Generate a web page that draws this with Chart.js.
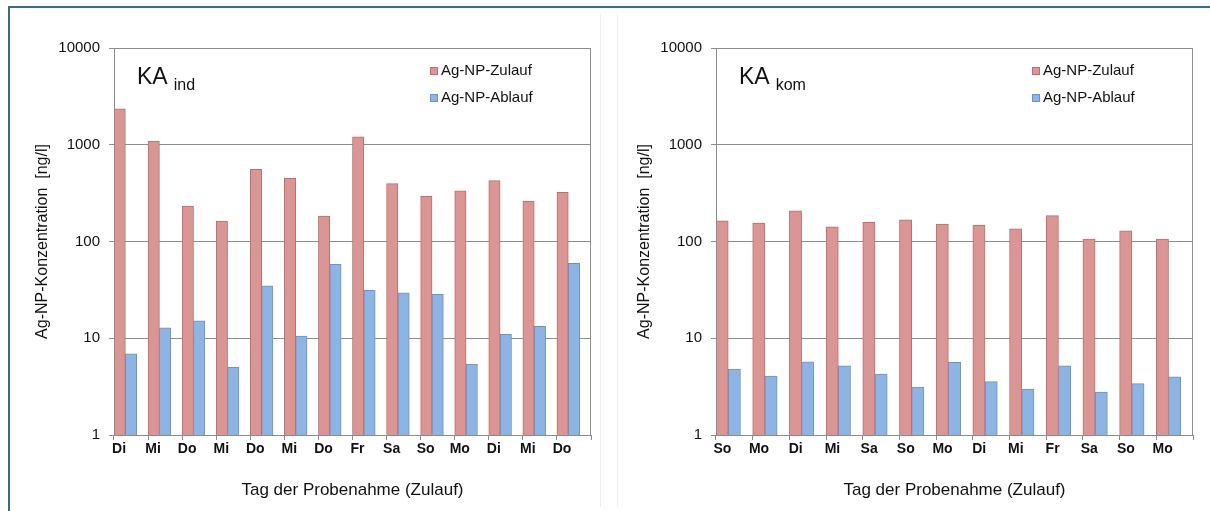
<!DOCTYPE html>
<html>
<head>
<meta charset="utf-8">
<script src="https://cdn.jsdelivr.net/npm/chart.js@4.4.1/dist/chart.umd.min.js"></script>
<style>
  body { margin: 0; background: #fff; width: 1210px; height: 511px; overflow: hidden; position: relative;
         font-family: "Liberation Sans", Arial, sans-serif; }
  #frame { position: absolute; left: 8px; top: 6px; width: 1202px; height: 505px; box-sizing: border-box;
           border-top: 2px solid #3d6985; border-left: 2px solid #3d6985; }
  .sep { position: absolute; top: 14px; bottom: 4px; width: 1px; background: #eeeeee; }
  .panel { position: absolute; top: 10px; width: 590px; height: 500px; }
  .ka { position: absolute; top: 63px; font-size: 23px; color: #111; }
  .ka span { font-size: 16px; position: relative; top: 6px; margin-left: 6px; }
</style>
</head>
<body>
<div id="frame"></div>
<div class="sep" style="left:600px"></div>
<div class="sep" style="left:617px"></div>

<div class="panel" style="left:10px"><canvas id="chartInd" width="590" height="500"></canvas></div>
<div class="panel" style="left:612px"><canvas id="chartKom" width="590" height="500"></canvas></div>

<div class="ka" style="left:137px">KA<span>ind</span></div>
<div class="ka" style="left:739px">KA<span>kom</span></div>

<script>
// Kläranlage industriell (KA ind)
const daysInd = ['Di', 'Mi', 'Do', 'Mi', 'Do', 'Mi', 'Do', 'Fr', 'Sa', 'So', 'Mo', 'Di', 'Mi', 'Do'];
const zulaufInd = [2350, 1090, 233, 163, 557, 450, 183, 1210, 396, 293, 333, 425, 262, 322];
const ablaufInd = [6.9, 12.8, 15.1, 5.0, 34.9, 10.5, 58, 31.3, 29.4, 28.5, 5.4, 11.0, 13.3, 59.5];

// Kläranlage kommunal (KA kom)
const daysKom = ['So', 'Mo', 'Di', 'Mi', 'Sa', 'So', 'Mo', 'Di', 'Mi', 'Fr', 'Sa', 'So', 'Mo'];
const zulaufKom = [164, 155, 208, 142, 158, 167, 151, 148, 135, 185, 106, 129, 106];
const ablaufKom = [4.8, 4.07, 5.7, 5.2, 4.27, 3.13, 5.64, 3.56, 2.99, 5.2, 2.78, 3.39, 4.0];

const yTicks = [1, 10, 100, 1000, 10000];

const fontFamily = '"Liberation Sans", Arial, sans-serif';
Chart.defaults.font.family = fontFamily;
Chart.defaults.color = '#111';

const gridGrey = '#8c8c8c';

// legend drawn inside the plot area, top right
const insideLegend = {
    id: 'insideLegend',
    afterDraw(chart) {
        const { ctx, chartArea } = chart;
        ctx.save();
        ctx.font = '15px ' + fontFamily;
        ctx.textBaseline = 'middle';
        chart.data.datasets.forEach((ds, i) => {
            if (!ds.label) return;
            const x = chartArea.right - 161;
            const y = chartArea.top + 23 + i * 27;
            ctx.fillStyle = ds.backgroundColor;
            ctx.fillRect(x, y - 4, 8, 8);
            ctx.strokeStyle = ds.borderColor;
            ctx.lineWidth = 1;
            ctx.strokeRect(x + 0.5, y - 3.5, 7, 7);
            ctx.fillStyle = '#111';
            ctx.fillText(ds.label, x + 11, y);
        });
        ctx.restore();
    }
};

// grey frame round the plot area
const plotFrame = {
    id: 'plotFrame',
    afterDatasetsDraw(chart) {
        const { ctx, chartArea } = chart;
        ctx.save();
        ctx.strokeStyle = gridGrey;
        ctx.lineWidth = 1;
        ctx.strokeRect(Math.round(chartArea.left) + 0.5, Math.round(chartArea.top) + 0.5,
            Math.round(chartArea.width) - 1, Math.round(chartArea.height));
        ctx.restore();
    }
};

function makeChart(id, days, zulauf, ablauf) {
    const ctx = document.getElementById(id).getContext('2d');
    return new Chart(ctx, {
        type: 'bar',
        data: {
            labels: days,
            datasets: [
                { label: 'Ag-NP-Zulauf', data: zulauf, backgroundColor: '#d99694', borderColor: '#b96f6d', borderWidth: 1 },
                { label: 'Ag-NP-Ablauf', data: ablauf, backgroundColor: '#8eb4e3', borderColor: '#6a93c8', borderWidth: 1 },
                { label: '', data: days.map(() => null) } // empty third slot, keeps bars left in each category
            ]
        },
        options: {
            responsive: false,
            animation: false,
            categoryPercentage: 1,
            barPercentage: 1,
            layout: { padding: { left: 0, right: 9, top: 38, bottom: 0 } },
            plugins: {
                legend: { display: false },
                tooltip: { enabled: false }
            },
            scales: {
                x: {
                    grid: { drawOnChartArea: false, drawTicks: true, tickLength: 5, color: gridGrey, offset: true },
                    border: { color: gridGrey },
                    ticks: { font: { size: 14, weight: 'bold' }, color: '#111', padding: 1, labelOffset: -12,
                             maxRotation: 0, autoSkip: false },
                    afterFit: (scale) => { scale.height = 75; },
                    title: { display: true, text: 'Tag der Probenahme (Zulauf)', font: { size: 17 }, color: '#111',
                             padding: { top: 0, bottom: 9 } }
                },
                y: {
                    type: 'logarithmic',
                    min: 1,
                    max: 10000,
                    afterBuildTicks: (scale) => { scale.ticks = yTicks.map(v => ({ value: v })); },
                    afterFit: (scale) => { scale.width = 104; },
                    grid: { color: gridGrey, tickLength: 5 },
                    border: { color: gridGrey },
                    ticks: { font: { size: 15 }, color: '#111', padding: 9, callback: (v) => String(v) },
                    title: { display: true, text: 'Ag-NP-Konzentration  [ng/l]', font: { size: 16 }, color: '#111',
                             padding: { top: 23, bottom: 0 } }
                }
            }
        },
        plugins: [insideLegend, plotFrame]
    });
}

makeChart('chartInd', daysInd, zulaufInd, ablaufInd);
makeChart('chartKom', daysKom, zulaufKom, ablaufKom);
</script>
</body>
</html>
